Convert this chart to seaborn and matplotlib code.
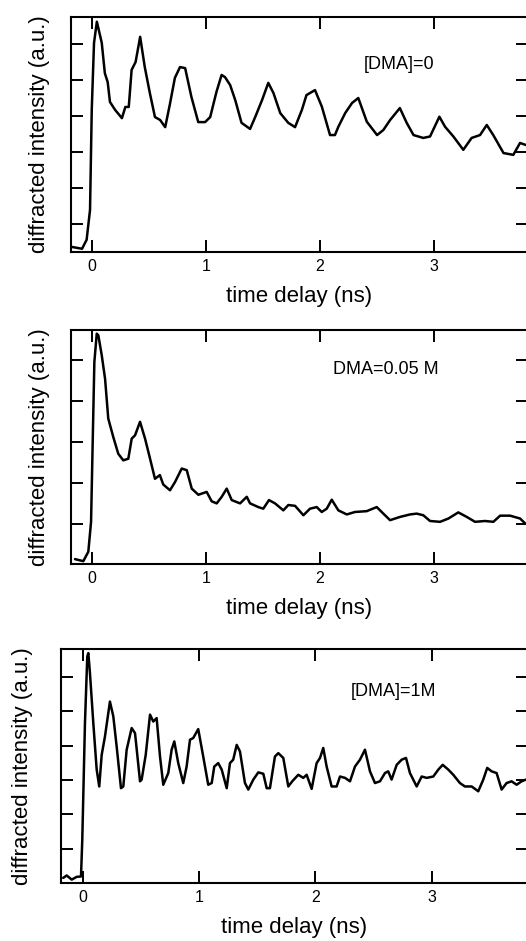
#!/usr/bin/env python3

import matplotlib

matplotlib.use("Agg")
import matplotlib.pylab as plt
import pandas as pd
import seaborn as sns

sns.set_style("ticks")
plt.rcParams["font.family"] = ["Liberation Sans", "DejaVu Sans"]
plt.rcParams["text.color"] = "black"
plt.rcParams["axes.labelcolor"] = "black"
plt.rcParams["xtick.color"] = "black"
plt.rcParams["ytick.color"] = "black"
plt.rcParams["axes.edgecolor"] = "black"

# Traces: time delay (ns) and intensity (a.u., tick units)
t_dma0 = [
    -0.178, -0.09, -0.05, -0.02, -0.005, 0.015, 0.04, 0.083, 0.11, 0.135, 0.155,
    0.2, 0.26, 0.29, 0.32, 0.345, 0.38, 0.42, 0.46, 0.505, 0.55, 0.595, 0.64,
    0.68, 0.725, 0.77, 0.815, 0.87, 0.93, 0.99, 1.035, 1.09, 1.135, 1.165,
    1.21, 1.255, 1.31, 1.385, 1.43, 1.49, 1.545, 1.59, 1.65, 1.72, 1.78, 1.84,
    1.88, 1.955, 2.015, 2.087, 2.13, 2.16, 2.22, 2.28, 2.335, 2.41, 2.5,
    2.555, 2.615, 2.7, 2.76, 2.82, 2.905, 2.965, 3.047, 3.097, 3.17, 3.257,
    3.33, 3.404, 3.463, 3.52, 3.61, 3.696, 3.755, 3.81,
]
v_dma0 = [
    0.36, 0.31, 0.56, 1.39, 4.17, 6.03, 6.62, 6.03, 5.19, 4.94, 4.39,
    4.17, 3.94, 4.25, 4.25, 5.28, 5.5, 6.2, 5.37, 4.64, 3.97, 3.89, 3.69,
    4.31, 5.06, 5.36, 5.33, 4.53, 3.83, 3.83, 3.97, 4.67, 5.14, 5.08,
    4.86, 4.44, 3.81, 3.64, 3.97, 4.44, 4.92, 4.64, 4.08, 3.81, 3.69, 4.17,
    4.58, 4.72, 4.26, 3.47, 3.47, 3.70, 4.08, 4.36, 4.5, 3.84, 3.47,
    3.61, 3.89, 4.22, 3.81, 3.47, 3.39, 3.43, 3.98, 3.70, 3.43, 3.06,
    3.39, 3.47, 3.75, 3.47, 2.97, 2.92, 3.25, 3.19,
]

t_dma005 = [
    -0.152, -0.079, -0.035, -0.011, 0.004, 0.018, 0.039, 0.053, 0.083, 0.112,
    0.14, 0.184, 0.228, 0.272, 0.316, 0.346, 0.375, 0.419, 0.463, 0.507,
    0.55, 0.593, 0.623, 0.682, 0.726, 0.785, 0.829, 0.873, 0.931, 1.004,
    1.048, 1.092, 1.136, 1.18, 1.224, 1.297, 1.356, 1.385, 1.457, 1.501,
    1.551, 1.604, 1.677, 1.721, 1.78, 1.853, 1.911, 1.97, 2.014, 2.058,
    2.102, 2.16, 2.234, 2.306, 2.409, 2.497, 2.555, 2.614, 2.702, 2.789,
    2.848, 2.906, 2.965, 3.053, 3.126, 3.213, 3.287, 3.36, 3.448, 3.521,
    3.58, 3.668, 3.756, 3.8,
]
v_dma005 = [
    0.14, 0.09, 0.32, 1.05, 3.08, 4.95, 5.64, 5.60, 5.11, 4.54,
    3.57, 3.12, 2.71, 2.55, 2.59, 3.08, 3.16, 3.49, 3.08, 2.59,
    2.10, 2.19, 1.96, 1.82, 2.02, 2.35, 2.31, 1.86, 1.71, 1.78,
    1.55, 1.50, 1.66, 1.86, 1.58, 1.50, 1.66, 1.50, 1.41, 1.37,
    1.58, 1.50, 1.33, 1.46, 1.44, 1.21, 1.37, 1.41, 1.29, 1.37,
    1.59, 1.33, 1.23, 1.29, 1.31, 1.41, 1.25, 1.09, 1.17, 1.23,
    1.25, 1.21, 1.07, 1.05, 1.13, 1.28, 1.17, 1.05, 1.07, 1.05,
    1.20, 1.20, 1.13, 1.01,
]

t_dma1 = [
    -0.17, -0.14, -0.097, -0.054, -0.017, -0.006, 0.017, 0.037, 0.046, 0.06,
    0.089, 0.118, 0.14, 0.161, 0.189, 0.232, 0.261, 0.29, 0.327, 0.347,
    0.376, 0.419, 0.448, 0.491, 0.505, 0.54, 0.577, 0.605, 0.634, 0.663,
    0.691, 0.734, 0.763, 0.786, 0.82, 0.863, 0.892, 0.921, 0.949, 0.992,
    1.035, 1.078, 1.108, 1.13, 1.164, 1.194, 1.237, 1.265, 1.293, 1.323,
    1.351, 1.394, 1.423, 1.466, 1.509, 1.552, 1.581, 1.609, 1.652, 1.681,
    1.724, 1.767, 1.801, 1.853, 1.896, 1.925, 1.968, 2.011, 2.04, 2.068,
    2.097, 2.14, 2.183, 2.212, 2.255, 2.298, 2.341, 2.384, 2.427, 2.47,
    2.513, 2.556, 2.599, 2.627, 2.656, 2.7, 2.743, 2.78, 2.814, 2.872,
    2.915, 2.958, 3.015, 3.058, 3.096, 3.144, 3.187, 3.244, 3.287, 3.345,
    3.402, 3.445, 3.479, 3.517, 3.56, 3.603, 3.646, 3.689, 3.732, 3.775,
    3.812,
]
v_dma1 = [
    0.15, 0.22, 0.10, 0.18, 0.19, 1.26, 4.65, 6.59, 6.69, 6.11,
    4.65, 3.30, 2.81, 3.73, 4.26, 5.28, 4.85, 3.97, 2.76, 2.81,
    3.88, 4.51, 4.36, 2.96, 3.01, 3.73, 4.90, 4.70, 4.80, 3.68,
    2.86, 3.20, 3.88, 4.12, 3.49, 2.91, 3.39, 4.17, 4.22, 4.48,
    3.68, 2.86, 2.91, 3.39, 3.49, 3.30, 2.76, 3.49, 3.59, 4.02,
    3.83, 2.91, 2.72, 3.01, 3.22, 3.18, 2.76, 2.76, 3.68, 3.78,
    3.64, 2.81, 2.96, 3.15, 3.06, 3.15, 2.74, 3.49, 3.64, 3.93,
    3.39, 2.81, 2.81, 3.10, 3.06, 2.96, 3.39, 3.59, 3.88, 3.25,
    2.91, 2.96, 3.20, 3.25, 3.01, 3.44, 3.59, 3.64, 3.20, 2.81,
    3.10, 3.06, 3.10, 3.30, 3.44, 3.30, 3.15, 2.91, 2.81, 2.81,
    2.67, 3.01, 3.35, 3.25, 3.20, 2.72, 2.91, 2.96, 2.86, 2.96,
    3.01,
]

labels = ["[DMA]=0", "DMA=0.05 M", "[DMA]=1M"]
x_ticks = [0, 1, 2, 3]
y_ticks = [[1, 2, 3, 4, 5, 6], [1, 2, 3, 4, 5], [1, 2, 3, 4, 5, 6]]


def main():
    fig = plt.figure(figsize=(5.26, 9.41), dpi=100)

    panels = [
        # rect, xlim, ylim, label position, ylabel x
        ([0.135, 0.7322, 0.8688, 0.2497], (-0.187, 3.825), (0.22, 6.75), (0.641, 0.80), -0.046),
        ([0.135, 0.4006, 0.8688, 0.2487], (-0.187, 3.825), (0.02, 5.73), (0.573, 0.833), -0.046),
        ([0.116, 0.0616, 0.8878, 0.2487], (-0.189, 3.83), (0.0, 6.81), (0.621, 0.82), -0.060),
    ]
    series = [(t_dma0, v_dma0), (t_dma005, v_dma005), (t_dma1, v_dma1)]

    for i, (rect, xlim, ylim, lpos, ylx) in enumerate(panels):
        ax = fig.add_axes(rect)
        df = pd.DataFrame({"t": series[i][0], "v": series[i][1]})
        sns.lineplot(
            data=df,
            x="t",
            y="v",
            ax=ax,
            color="black",
            linewidth=1.8,
            estimator=None,
            sort=False,
        )
        ax.set_xlim(*xlim)
        ax.set_ylim(*ylim)
        ax.set_xticks(x_ticks)
        ax.set_xticklabels([str(x) for x in x_ticks], fontsize=11.5)
        ax.set_yticks(y_ticks[i])
        ax.set_yticklabels([])
        ax.tick_params(
            axis="x", direction="in", length=8.5, width=1.4, top=True, pad=5
        )
        ax.tick_params(
            axis="y", direction="in", length=8.5, width=1.4, right=True, left=True
        )
        for spine in ax.spines.values():
            spine.set_linewidth(1.5)
            spine.set_visible(True)
        ax.set_xlabel("time delay (ns)", fontsize=16, labelpad=9)
        ax.set_ylabel("diffracted intensity (a.u.)", fontsize=16)
        ax.yaxis.set_label_coords(ylx, 0.5)
        ax.text(
            lpos[0],
            lpos[1],
            labels[i],
            transform=ax.transAxes,
            fontsize=13,
            ha="left",
            va="center",
        )

    plt.savefig("out.png", dpi=100)
    plt.clf()


if __name__ == "__main__":
    main()
